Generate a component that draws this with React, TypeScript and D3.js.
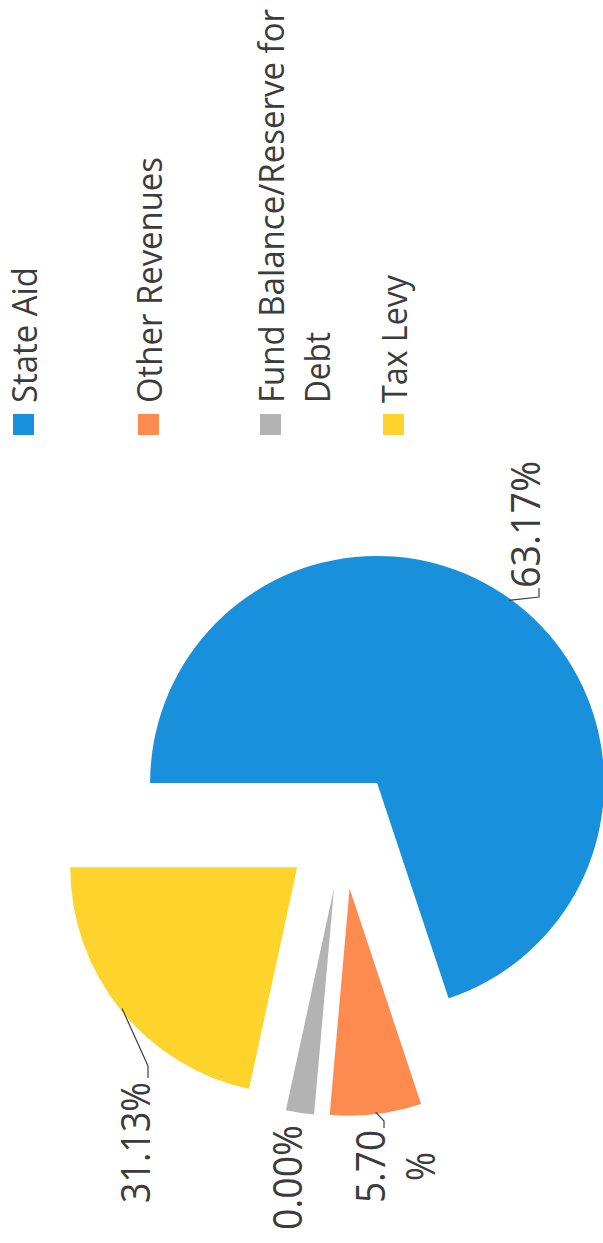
import React from "react";
import * as d3 from "d3";

// ---- data ----
const categories = ["State Aid", "Other Revenues", "Fund Balance/Reserve for Debt", "Tax Levy"];
// slice sizes as drawn in the picture (share of the full circle, %)
const shares = [69.9, 6.5, 2.0, 21.6];
// data label texts as printed on the chart
const labelTexts = ["63.17%", "5.70%", "0.00%", "31.13%"];
const colors = ["#1890dc", "#fd8b50", "#b3b3b3", "#fed42c"];
// legend lines (wrapped as in the picture)
const legendLines = [["State Aid"], ["Other Revenues"], ["Fund Balance/Reserve for", "Debt"], ["Tax Levy"]];

// ---- layout ----
const W = 603;
const H = 1243;
const CX = 342.8;
const CY = 830.4;
const R = 227;
const EXPLODE = 58.6;
const TEXT = "#3c3c3c";
const FONT = "'Open Sans', Lato, sans-serif";

// label placement (rotated -90deg): baseline x, center y, line split, text lengths
const labelLayout = [
  { bx: 540, cy: 524.5, split: [6], lens: [127], lineGap: 0, leader: { corner: [539, 597], tail: [539, 588] } },
  { bx: 385, cy: 1166.5, split: [4], lens: [73, 29], lineGap: 50, leader: { corner: [384, 1121], tail: [384, 1128] } },
  { bx: 302, cy: 1177.5, split: [5], lens: [105], lineGap: 0, leader: null },
  { bx: 150, cy: 1142.5, split: [6], lens: [121], lineGap: 0, leader: { corner: [148, 1066], tail: [148, 1078] } },
];

const legendLayout = [
  { bx: 37, lens: [136] },
  { bx: 162, lens: [246] },
  { bx: 284, lens: [394, 71] },
  { bx: 407, lens: [128] },
];
const LEGEND_Y = 403;
const LEGEND_LINE_GAP = 46;
const SWATCH = 21;

function splitLabel(t: string, at: number): string[] {
  const a = t.slice(0, at);
  const b = t.slice(at);
  return b ? [a, b] : [a];
}

export default function App() {
  const pie = d3
    .pie<number>()
    .sort(null)
    .value((d) => d)
    .startAngle(-Math.PI / 2)
    .endAngle((3 * Math.PI) / 2);
  const arcs = pie(shares);
  const arcGen = d3.arc<d3.PieArcDatum<number>>().innerRadius(0).outerRadius(R);

  return (
    <svg
      width={W}
      height={H}
      viewBox={`0 0 ${W} ${H}`}
      style={{ position: "absolute", left: 0, top: 0, background: "#fff" }}
      fontFamily={FONT}
    >
      <rect x={0} y={0} width={W} height={H} fill="#fff" />
      {arcs.map((a, i) => {
        const mid = (a.startAngle + a.endAngle) / 2;
        const ox = CX + EXPLODE * Math.sin(mid);
        const oy = CY - EXPLODE * Math.cos(mid);
        return (
          <g key={categories[i]} transform={`translate(${ox},${oy})`}>
            <path d={arcGen(a) || ""} fill={colors[i]} />
          </g>
        );
      })}
      {arcs.map((a, i) => {
        const L = labelLayout[i];
        if (!L.leader) return null;
        const mid = (a.startAngle + a.endAngle) / 2;
        const ox = CX + EXPLODE * Math.sin(mid);
        const oy = CY - EXPLODE * Math.cos(mid);
        const sx = ox + (R - 2) * Math.sin(mid);
        const sy = oy - (R - 2) * Math.cos(mid);
        const pts: [number, number][] = [[sx, sy], L.leader.corner as [number, number], L.leader.tail as [number, number]];
        return (
          <path
            key={"leader" + i}
            d={d3.line()(pts) || ""}
            fill="none"
            stroke="#404040"
            strokeWidth={1.2}
          />
        );
      })}
      {labelTexts.map((t, i) => {
        const L = labelLayout[i];
        const lines = splitLabel(t, L.split[0]);
        return lines.map((ln, j) => (
          <text
            key={"lab" + i + "_" + j}
            transform={`translate(${L.bx + j * L.lineGap},${L.cy}) rotate(-90)`}
            textAnchor="middle"
            fontSize={40}
            fill={TEXT}
            textLength={L.lens[j]}
            lengthAdjust="spacingAndGlyphs"
          >
            {ln}
          </text>
        ));
      })}
      {categories.map((c, i) => {
        const G = legendLayout[i];
        return (
          <g key={"leg" + c}>
            <rect x={G.bx - 3 - SWATCH} y={LEGEND_Y + 11} width={SWATCH} height={SWATCH} fill={colors[i]} />
            {legendLines[i].map((ln, j) => (
              <text
                key={j}
                transform={`translate(${G.bx + j * LEGEND_LINE_GAP},${LEGEND_Y}) rotate(-90)`}
                textAnchor="start"
                fontSize={35}
                fill={TEXT}
                textLength={G.lens[j]}
                lengthAdjust="spacingAndGlyphs"
              >
                {ln}
              </text>
            ))}
          </g>
        );
      })}
    </svg>
  );
}
